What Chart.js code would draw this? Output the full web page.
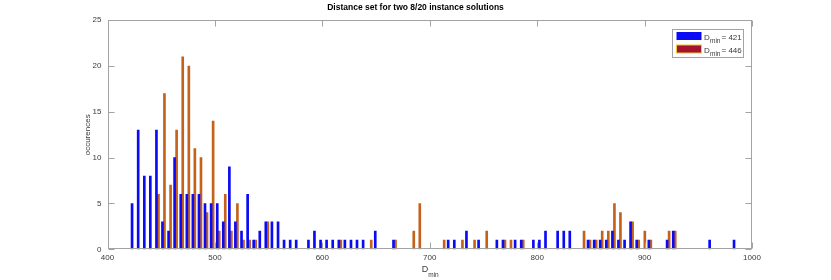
<!DOCTYPE html>
<html><head><meta charset="utf-8">
<script src="https://cdn.jsdelivr.net/npm/chart.js@4/dist/chart.umd.min.js"></script>
<style>html,body{margin:0;padding:0;background:#fff;overflow:hidden}</style>
</head><body>
<canvas id="c" width="831" height="280" style="width:831px;height:280px;display:block"></canvas>
<script>
// ---- data (histogram of pairwise distances, 100 bins) ----
const titleText = 'Distance set for two 8/20 instance solutions';
const seriesLabels = ['421', '446'];
const binCenters = [
  423.8,429.5,435.2,440.8,446.5,452.1,457.8,463.4,469.1,474.8,
  480.4,486.1,491.7,497.4,503.1,508.7,514.4,520.0,525.7,531.4,
  537.0,542.7,548.3,554.0,559.7,565.3,571.0,576.6,582.3,588.0,
  593.6,599.3,604.9,610.6,616.3,621.9,627.6,633.2,638.9,644.6,
  650.2,655.9,661.5,667.2,672.9,678.5,684.2,689.8,695.5,701.2,
  706.8,712.5,718.1,723.8,729.5,735.1,740.8,746.4,752.1,757.8,
  763.4,769.1,774.7,780.4,786.1,791.7,797.4,803.0,808.7,814.4,
  820.0,825.7,831.3,837.0,842.7,848.3,854.0,859.6,865.3,871.0,
  876.6,882.3,887.9,893.6,899.3,904.9,910.6,916.2,921.9,927.6,
  933.2,938.9,944.5,950.2,955.9,961.5,967.2,972.8,978.5,984.2
];
const counts421 = [
  5,13,8,8,13,3,2,10,6,6,
  6,6,5,5,5,3,9,3,2,6,
  1,2,3,3,3,1,1,1,0,1,
  2,1,1,1,1,1,1,1,1,0,
  2,0,0,1,0,0,0,0,0,0,
  0,0,1,1,0,2,0,1,0,0,
  1,1,0,1,1,0,1,1,2,0,
  2,2,2,0,0,1,1,1,1,2,
  1,1,3,1,0,1,0,0,1,2,
  0,0,0,0,0,1,0,0,0,1
];
const counts446 = [
  0,0,0,0,6,17,7,13,21,20,
  11,10,4,14,2,6,2,5,1,1,
  1,0,3,0,0,0,0,0,0,0,
  0,0,0,0,1,0,0,0,0,1,
  0,0,0,1,0,0,2,5,0,0,
  0,1,0,0,1,0,1,0,2,0,
  0,1,1,0,1,0,0,0,0,0,
  0,0,0,0,2,1,1,2,2,5,
  4,0,3,1,2,1,0,0,2,2,
  0,0,0,0,0,0,0,0,0,0
];
const xTicks = [400,500,600,700,800,900,1000];
const yTicks = [0,5,10,15,20,25];

// ---- styling ----
const FONT = "'Liberation Sans', Arial, Helvetica, sans-serif";
const AXIS_COL = '#a3a3a3';
const TEXT_COL = '#3a3a3a';
const BLUE = '#0a0af5';
const RED_FACE = '#a2142f';
const RED_BAR = '#c4621c';
const YELLOW = '#f2c52a';

const toPoints = arr => binCenters.map((x, i) => ({x, y: arr[i]})).filter(p => p.y > 0);

const decor = {
  id: 'decor',
  afterDatasetsDraw(chart) {
    const {ctx, chartArea: a, scales: {x, y}} = chart;
    ctx.save();
    ctx.strokeStyle = AXIS_COL;
    ctx.lineWidth = 1;
    const L = Math.round(a.left) + 0.5, R = Math.round(a.right) - 0.5;
    const T = Math.round(a.top) + 0.5, B = Math.round(a.bottom) - 0.5;
    ctx.strokeRect(L, T, R - L, B - T);
    const tl = 6;
    ctx.beginPath();
    xTicks.forEach(v => {
      const px = Math.round(x.getPixelForValue(v)) + 0.5;
      ctx.moveTo(px, B); ctx.lineTo(px, B - tl);
      ctx.moveTo(px, T); ctx.lineTo(px, T + tl);
    });
    yTicks.forEach(v => {
      const py = Math.round(y.getPixelForValue(v)) + 0.5;
      ctx.moveTo(L, py); ctx.lineTo(L + tl, py);
      ctx.moveTo(R, py); ctx.lineTo(R - tl, py);
    });
    ctx.stroke();

    // legend
    const lw = 71, lh = 28;
    const lx = Math.round(a.right) - 80 + 0.5, ly = Math.round(a.top) + 9.5;
    ctx.fillStyle = '#fff';
    ctx.fillRect(lx, ly, lw, lh);
    ctx.strokeStyle = AXIS_COL;
    ctx.strokeRect(lx, ly, lw, lh);
    const rows = [
      {fill: BLUE, edge: null, label: seriesLabels[0]},
      {fill: RED_FACE, edge: YELLOW, label: seriesLabels[1]}
    ];
    rows.forEach((r, i) => {
      const py = ly + 2.5 + i * 13;
      ctx.fillStyle = r.fill;
      ctx.fillRect(lx + 4, py, 25, 8);
      if (r.edge) { ctx.strokeStyle = r.edge; ctx.strokeRect(lx + 4, py, 25, 8); }
      ctx.fillStyle = TEXT_COL;
      ctx.textBaseline = 'alphabetic';
      ctx.textAlign = 'left';
      ctx.font = '8px ' + FONT;
      ctx.fillText('D', lx + 31.5, py + 7.5);
      ctx.font = '6.5px ' + FONT;
      ctx.fillText('min', lx + 37.5, py + 10.5);
      ctx.font = '8px ' + FONT;
      ctx.fillText('= ' + r.label, lx + 49, py + 7.5);
    });

    // x axis title D_min
    const cx = (a.left + a.right) / 2;
    ctx.fillStyle = TEXT_COL;
    ctx.font = '9px ' + FONT;
    ctx.fillText('D', cx - 8, 271.5);
    ctx.font = '6.5px ' + FONT;
    ctx.fillText('min', cx - 1.5, 276.5);
    ctx.restore();
  }
};

new Chart(document.getElementById('c'), {
  type: 'bar',
  data: {
    datasets: [
      {label: 'Dmin = ' + seriesLabels[0], data: toPoints(counts421), backgroundColor: BLUE,
       borderWidth: 0, barThickness: 2, grouped: true},
      {label: 'Dmin = ' + seriesLabels[1], data: toPoints(counts446), backgroundColor: RED_BAR,
       borderWidth: 0, barThickness: 2, grouped: true}
    ]
  },
  options: {
    responsive: false,
    animation: false,
    events: [],
    layout: {padding: {left: 79, right: 79, top: 0, bottom: 0}},
    plugins: {
      legend: {display: false},
      tooltip: {enabled: false},
      title: {display: true, text: titleText, color: '#000',
        font: {family: FONT, size: 8.5, weight: 'bold'}, padding: {top: 3, bottom: 7}}
    },
    scales: {
      x: {
        type: 'linear', min: 400, max: 1000, offset: false,
        grid: {display: false, drawTicks: false}, border: {display: false},
        ticks: {stepSize: 100, color: TEXT_COL, font: {family: FONT, size: 8}, padding: 4,
                maxRotation: 0, autoSkip: false, callback: v => String(v)},
        afterBuildTicks: s => { s.ticks = xTicks.map(v => ({value: v})); },
        afterFit: s => { s.height = 30.7; }
      },
      y: {
        min: 0, max: 25,
        grid: {display: false, drawTicks: false}, border: {display: false},
        ticks: {stepSize: 5, color: TEXT_COL, font: {family: FONT, size: 8}, padding: 6,
                callback: v => String(v)},
        afterBuildTicks: s => { s.ticks = yTicks.map(v => ({value: v})); },
        title: {display: true, text: 'occurences', color: TEXT_COL,
          font: {family: FONT, size: 8}, padding: {top: 4, bottom: 0}},
        afterFit: s => { s.width = 28.5; }
      }
    }
  },
  plugins: [decor]
});
</script>
</body></html>
